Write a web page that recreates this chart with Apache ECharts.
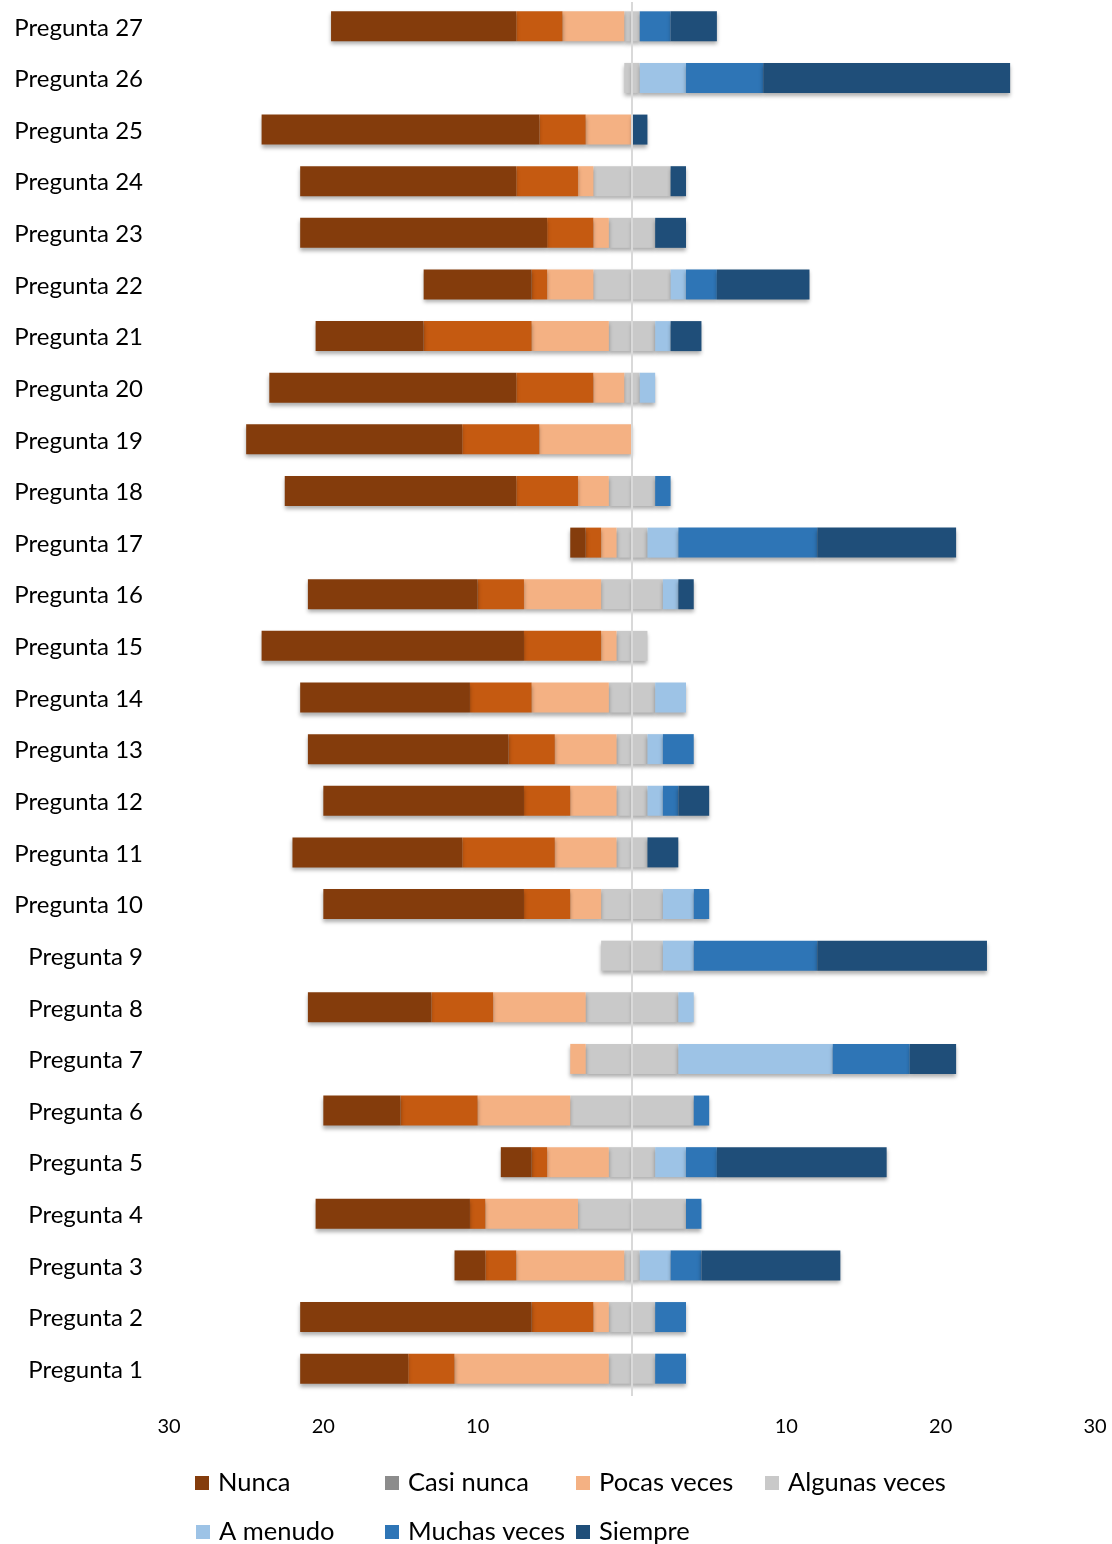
<!DOCTYPE html>
<html>
<head>
<meta charset="utf-8">
<script src="https://cdn.jsdelivr.net/npm/echarts@6/dist/echarts.min.js"></script>
<style>
  html, body { margin: 0; padding: 0; background: #ffffff; }
  #chart { width: 1112px; height: 1544px; }
</style>
</head>
<body>
<div id="chart"></div>
<script>
// Questions, bottom (Pregunta 1) to top (Pregunta 27)
const categories = Array.from({ length: 27 }, (_, i) => 'Pregunta ' + (i + 1));

// Answer counts per question (25 respondents each)
const nunca     = [7, 15, 2, 10, 2, 5, 0, 8, 0, 13, 11, 13, 13, 11, 17, 11, 1, 15, 14, 16, 7, 7, 16, 14, 18, 0, 12];
const casiNunca = [3, 4, 2, 1, 1, 5, 0, 4, 0, 3, 6, 3, 3, 4, 5, 3, 1, 4, 5, 5, 7, 1, 3, 4, 3, 0, 3];
const pocas     = [10, 1, 7, 6, 4, 6, 1, 6, 0, 2, 4, 3, 4, 5, 1, 5, 1, 2, 6, 2, 5, 3, 1, 1, 3, 0, 4];
const algunas   = [3, 3, 1, 7, 3, 8, 6, 6, 4, 4, 2, 2, 2, 3, 2, 4, 2, 3, 0, 1, 3, 5, 3, 5, 0, 1, 1];
const aMenudo   = [0, 0, 2, 0, 2, 0, 10, 1, 2, 2, 0, 1, 1, 2, 0, 1, 2, 0, 0, 1, 1, 1, 0, 0, 0, 3, 0];
const muchas    = [2, 2, 2, 1, 2, 1, 5, 0, 8, 1, 0, 1, 2, 0, 0, 0, 9, 1, 0, 0, 0, 2, 0, 0, 0, 5, 2];
const siempre   = [0, 0, 9, 0, 11, 0, 3, 0, 11, 0, 2, 2, 0, 0, 0, 1, 9, 0, 0, 0, 2, 6, 2, 1, 1, 16, 3];

// Axis range and tick step
const xMin = -30, xMax = 30, xStep = 10;

const colors = {
  'Nunca': '#843C0C',
  'Casi nunca': '#C55A11',
  'Pocas veces': '#F4B183',
  'Algunas veces': '#C9C9C9',
  'A menudo': '#9DC3E6',
  'Muchas veces': '#2E75B6',
  'Siempre': '#1F4E79'
};

const FONT = 'Lato, "Open Sans", sans-serif';

const shadow = {
  shadowColor: 'rgba(0,0,0,0.32)',
  shadowBlur: 4,
  shadowOffsetX: 0,
  shadowOffsetY: 3
};

function barSeries(name, data, sign) {
  return {
    name: name,
    type: 'bar',
    stack: 'total',
    barWidth: 30,
    data: data.map(v => sign * v),
    itemStyle: Object.assign({ color: colors[name] }, shadow),
    emphasis: { disabled: true }
  };
}

// Negative side stacks outward from zero: half of "Algunas veces" first
const series = [
  barSeries('Algunas veces', algunas, -0.5),
  barSeries('Pocas veces', pocas, -1),
  barSeries('Casi nunca', casiNunca, -1),
  barSeries('Nunca', nunca, -1),
  barSeries('Algunas veces', algunas, 0.5),
  barSeries('A menudo', aMenudo, 1),
  barSeries('Muchas veces', muchas, 1),
  barSeries('Siempre', siempre, 1),
  {
    // zero reference line drawn above the bars
    name: 'cero',
    type: 'bar',
    data: [],
    z: 10,
    markLine: {
      silent: true,
      symbol: 'none',
      label: { show: false },
      lineStyle: { color: '#D9D9D9', width: 2, type: 'solid' },
      data: [{ xAxis: 0 }]
    }
  }
];

// Legend entries laid out in fixed columns
const legendItems = [
  { name: 'Nunca', left: 195, top: 1470 },
  { name: 'Casi nunca', left: 385, top: 1470, icon: '#8C8C8C' },
  { name: 'Pocas veces', left: 576, top: 1470 },
  { name: 'Algunas veces', left: 765, top: 1470 },
  { name: 'A menudo', left: 196, top: 1519 },
  { name: 'Muchas veces', left: 385, top: 1519 },
  { name: 'Siempre', left: 576, top: 1519 }
];

const legends = legendItems.map(it => ({
  left: it.left,
  top: it.top,
  padding: 0,
  icon: 'rect',
  itemWidth: 14,
  itemHeight: 14,
  selectedMode: false,
  textStyle: { fontFamily: FONT, fontSize: 25.5, color: '#000000', padding: [0, 0, 0, 4] },
  data: [it.icon ? { name: it.name, itemStyle: { color: it.icon } } : { name: it.name }]
}));

const chart = echarts.init(document.getElementById('chart'), null, { renderer: 'canvas' });
chart.setOption({
  animation: false,
  backgroundColor: '#ffffff',
  legend: legends,
  grid: { left: 169, right: 17, top: 2, bottom: 148, containLabel: false },
  xAxis: {
    type: 'value',
    min: xMin,
    max: xMax,
    interval: xStep,
    axisLine: { show: false },
    axisTick: { show: false },
    splitLine: { show: false },
    axisLabel: {
      margin: 21,
      fontFamily: FONT,
      fontSize: 20,
      color: '#000000',
      formatter: v => (v === 0 ? '' : String(Math.abs(v)))
    }
  },
  yAxis: {
    type: 'category',
    data: categories,
    axisLine: { show: false },
    axisTick: { show: false },
    axisLabel: {
      margin: 26,
      fontFamily: FONT,
      fontSize: 24,
      color: '#000000'
    }
  },
  series: series
});
</script>
</body>
</html>
